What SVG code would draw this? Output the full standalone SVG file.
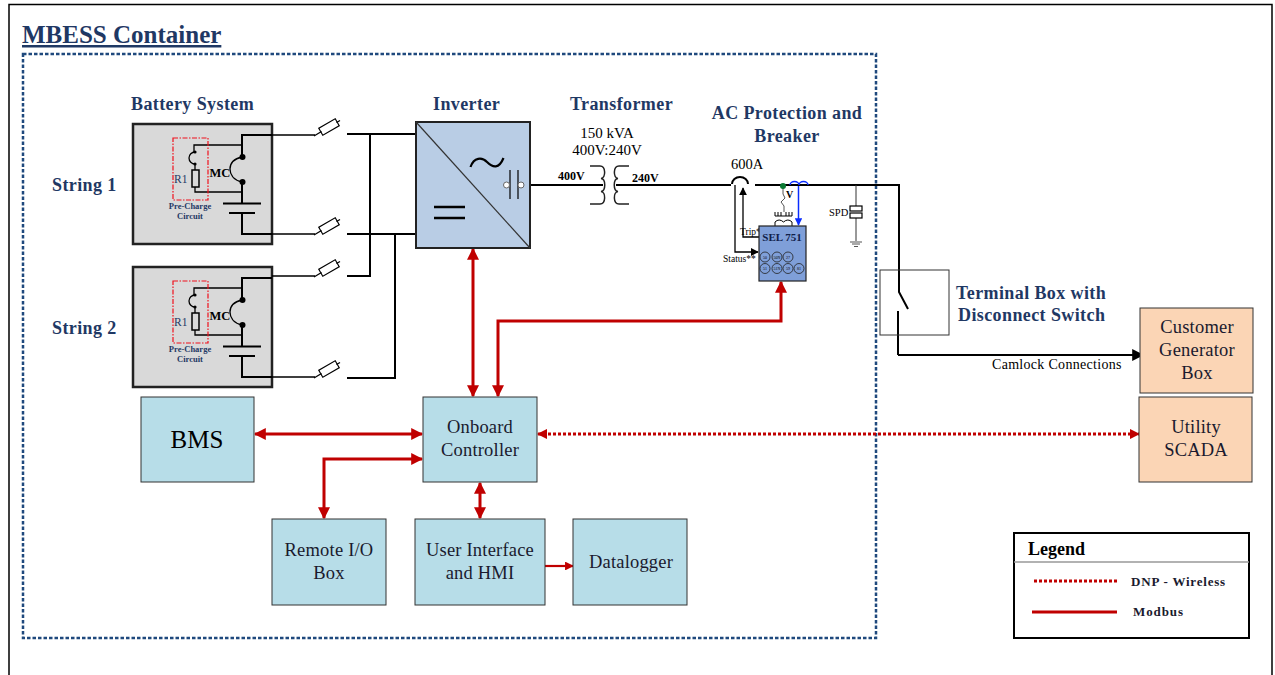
<svg xmlns="http://www.w3.org/2000/svg" width="1275" height="675" viewBox="0 0 1275 675">
<style>
text{font-family:"Liberation Serif","Times New Roman",serif;fill:#000}
.h{font-weight:bold;fill:#1f3864;font-size:18px;letter-spacing:.4px}
.b{font-size:18.500px;letter-spacing:.2px;fill:#1a1a2e}
.m{text-anchor:middle}
.w{fill:none;stroke:#000;stroke-width:2}
.t{fill:none;stroke:#000;stroke-width:1.300}
.sb{fill:#d9d9d9;stroke:#222;stroke-width:2.500}
.blue{fill:#b7dde8;stroke:#333;stroke-width:1}
.or{fill:#fbd5b5;stroke:#333;stroke-width:1}
.red{fill:none;stroke:#c00000;stroke-width:3}
.pc{fill:none;stroke:#f0101c;stroke-width:1.200;stroke-dasharray:5 1.500 1.500 1.500}
.fuse{fill:#fff;stroke:#000;stroke-width:1.200}
</style>
<defs>
<marker id="ar" viewBox="0 0 10 10" refX="9" refY="5" markerWidth="4" markerHeight="4" orient="auto-start-reverse" markerUnits="strokeWidth"><path d="M0 0L10 5L0 10Z" fill="#c00000"/></marker>
<marker id="ad" viewBox="0 0 10 10" refX="9" refY="5" markerWidth="3.500" markerHeight="3.500" orient="auto-start-reverse" markerUnits="strokeWidth"><path d="M0 0L10 5L0 10Z" fill="#c00000"/></marker>
<marker id="ak" viewBox="0 0 10 10" refX="9" refY="5" markerWidth="6" markerHeight="6" orient="auto" markerUnits="strokeWidth"><path d="M0 0L10 5L0 10Z" fill="#000"/></marker>
<marker id="ab" viewBox="0 0 10 10" refX="9" refY="5" markerWidth="5" markerHeight="5" orient="auto" markerUnits="strokeWidth"><path d="M0 0L10 5L0 10Z" fill="#0a2cff"/></marker>
<g id="stringcircuit">
<rect class="sb" x="133" y="124" width="139" height="120"/>
<path class="w" d="M272 135H242V157M242 182V203M242 213V234H272"/>
<path class="t" d="M242 145H194V152M195 164V170M195 187V192H242"/>
<path class="t" d="M195 152A6 6 0 0 0 195 164"/>
<circle cx="195" cy="152" r="1.600"/><circle cx="195" cy="164" r="1.600"/>
<rect x="192" y="170" width="7" height="17" fill="none" stroke="#000" stroke-width="1.500"/>
<path class="t" d="M242 157C233 159 230 164 230 169C230 174 233 180 242 182"/>
<circle cx="242.500" cy="157" r="3"/><circle cx="242.500" cy="182" r="3"/>
<path class="w" d="M223 203.500H261M229 213H255"/>
<rect class="pc" x="173" y="138" width="35" height="62"/>
<text x="174" y="183" font-size="11.500" style="fill:#1f3864">R1</text>
<text x="209.500" y="177" font-size="12.500" font-weight="bold">MC</text>
<text x="190" y="209" font-size="8.500" font-weight="bold" class="m" style="fill:#1f3864">Pre-Charge</text>
<text x="190" y="219" font-size="8.500" font-weight="bold" class="m" style="fill:#1f3864">Circuit</text>
</g>
<g id="fuse"><rect class="fuse" x="-9.500" y="-4" width="19" height="8" transform="rotate(-30)"/><path class="t" d="M-7.500 4.500L-15 9M7.500 -4.500L11 -6.500"/></g>
</defs>
<rect width="1275" height="675" fill="#fff"/>
<path d="M9 675V4.500H1272V675" fill="none" stroke="#000" stroke-width="1.500"/>
<rect x="23" y="54" width="853" height="584" fill="none" stroke="#1f497d" stroke-width="2.500" stroke-dasharray="3.500 2"/>
<text x="22" y="43" font-size="25" font-weight="bold" text-decoration="underline" style="fill:#1f3864">MBESS Container</text>

<g id="battery-system"><text class="h" x="131" y="110">Battery System</text></g>
<g id="string-1"><text class="h" x="52" y="190.500">String 1</text><use href="#stringcircuit"/>
<path class="t" d="M272 135H315M272 234H315"/><use href="#fuse" x="329" y="127"/><use href="#fuse" x="329" y="226"/></g>
<g id="string-2"><text class="h" x="52" y="333.500">String 2</text><use href="#stringcircuit" y="143"/>
<path class="t" d="M272 276H315M272 377H315"/><use href="#fuse" x="329" y="268"/><use href="#fuse" x="329" y="369"/></g>

<g id="connectors">
<path class="w" d="M347 134H416M347 234H416M347 276H370V134M347 378H395V234"/>
<path class="w" d="M530 185H603M616 185H727M755 185H899V292L908 309M898 311V355"/>
<path class="w" d="M898 355H1143" marker-end="url(#ak)"/>
<path class="red" d="M473 249V396" marker-start="url(#ar)" marker-end="url(#ar)"/>
<path class="red" d="M498 396V321H781V282" marker-start="url(#ar)" marker-end="url(#ar)"/>
<path class="red" d="M255 434H422" marker-start="url(#ar)" marker-end="url(#ar)"/>
<path class="red" d="M324 518V459H422" marker-start="url(#ar)" marker-end="url(#ar)"/>
<path class="red" d="M480 483V518" marker-start="url(#ar)" marker-end="url(#ar)"/>
<path class="red" d="M545 566H573" marker-end="url(#ar)" style="stroke-width:2.200"/>
<path class="red" d="M538 434H1139" stroke-dasharray="3 2" marker-start="url(#ad)" marker-end="url(#ad)"/>
</g>

<g id="inverter">
<text class="h" x="433" y="110">Inverter</text>
<rect x="416" y="122" width="114" height="126" fill="#b9cde5" stroke="#222" stroke-width="2"/>
<path d="M416 122L530 248" stroke="#333" stroke-width="1.200"/>
<path d="M470.500 167C474 157 482 157 487 162C493 168 499 169 503.500 158" fill="none" stroke="#000" stroke-width="2.200"/>
<path d="M510 170V199M518 170V199" stroke="#000" stroke-width="1.200"/>
<circle cx="506.500" cy="185" r="3" fill="#fff" stroke="#666"/><circle cx="521" cy="185" r="3" fill="#fff" stroke="#666"/>
<path d="M434 207H465M434 218H465" stroke="#000" stroke-width="2.500"/>
</g>

<g id="transformer">
<text class="h" x="570" y="110">Transformer</text>
<text x="607" y="138" font-size="15" class="m">150 kVA</text>
<text x="607" y="155" font-size="15" class="m">400V:240V</text>
<text x="558" y="180" font-size="12" font-weight="bold">400V</text>
<text x="632" y="182" font-size="12" font-weight="bold">240V</text>
<path d="M590 166H600C606 166 606 178 601 178.500C606 179 606 191 601 191.500C606 192 606 204 600 204H590M629 166H619C613 166 613 178 618 178.500C613 179 613 191 618 191.500C613 192 613 204 619 204H629" fill="none" stroke="#222" stroke-width="1.500"/>
</g>

<g id="ac-protection">
<text class="h m" x="787" y="119">AC Protection and</text>
<text class="h m" x="787" y="142">Breaker</text>
<text x="731" y="169" font-size="14.500">600A</text>
<path d="M725 185H731M732 184A8 7 0 0 1 748 184" fill="none" stroke="#000" stroke-width="2"/>
<path d="M735 185V252H758" class="t" marker-end="url(#ak)"/>
<path d="M759 237H743V188" class="t" marker-end="url(#ak)"/>
<text x="740" y="235" font-size="9.500">Trip*</text>
<text x="723" y="262" font-size="9.500">Status**</text>
<path d="M783 186V194L785 198L781 202L784 206V212" fill="none" stroke="#555" stroke-width="1"/>
<circle cx="783" cy="186" r="3" fill="#0a7a33"/>
<text x="786" y="198" font-size="10" font-weight="bold">V</text>
<path d="M775 212V216H792V212M778 212V216M781 212V216M786 212V216M789 212V216M775 226V222Q779 218 783.500 222Q788 218 792 222V226" fill="none" stroke="#000" stroke-width="1"/>
<path d="M790 185A4.500 3.500 0 0 1 799 185A4.500 3.500 0 0 1 808 185" fill="none" stroke="#0a2cff" stroke-width="1.500"/>
<path d="M798.500 186V225" fill="none" stroke="#0a2cff" stroke-width="1.500" marker-end="url(#ab)"/>
<rect x="759" y="226" width="47" height="55" fill="#7f9fd9" stroke="#222" stroke-width="1.200"/>
<text x="782" y="241" font-size="11" font-weight="bold" class="m" style="fill:#10204a">SEL 751</text>
<g fill="none" stroke="#222" stroke-width=".8">
<circle cx="765" cy="257" r="5"/><circle cx="777" cy="257" r="5"/><circle cx="788" cy="257" r="5"/>
<circle cx="765" cy="268.500" r="5"/><circle cx="777" cy="268.500" r="5"/><circle cx="788" cy="268.500" r="5"/><circle cx="799" cy="268.500" r="5"/>
</g>
<g font-size="4" text-anchor="middle">
<text x="765" y="259">50</text><text x="777" y="259">50N</text><text x="788" y="259">27</text>
<text x="765" y="270">51</text><text x="777" y="270">51N</text><text x="788" y="270">59</text><text x="799" y="270">81</text>
</g>
</g>

<g id="spd">
<text x="829" y="216" font-size="10.500">SPD</text>
<path d="M856 185V206M856 218V241" stroke="#333" stroke-width="1"/>
<rect x="850" y="206" width="12" height="5" fill="#fff" stroke="#000" stroke-width="1.200"/>
<rect x="850" y="213" width="12" height="5" fill="#fff" stroke="#000" stroke-width="1.200"/>
<path d="M850 242H862M852 244H860M854 246.500H858" stroke="#555" stroke-width="1.200"/>
</g>

<g id="terminal-box">
<rect x="880" y="270" width="69" height="65" fill="none" stroke="#333" stroke-width="1"/>
<text class="h" x="956" y="298.500">Terminal Box with</text>
<text class="h" x="958" y="320.500">Disconnect Switch</text>
<text x="992" y="369" font-size="14" letter-spacing=".3">Camlock Connections</text>
</g>

<g id="customer-generator-box"><rect class="or" x="1140" y="308" width="113" height="85"/>
<text class="b m" x="1197" y="333">Customer</text><text class="b m" x="1197" y="356">Generator</text><text class="b m" x="1197" y="379">Box</text></g>
<g id="utility-scada"><rect class="or" x="1139" y="397" width="113" height="85"/>
<text class="b m" x="1196" y="433">Utility</text><text class="b m" x="1196" y="456">SCADA</text></g>
<g id="bms"><rect class="blue" x="141" y="397" width="113" height="85"/><text class="m" x="197" y="448" font-size="25">BMS</text></g>
<g id="onboard-controller"><rect class="blue" x="423" y="397" width="114" height="85"/>
<text class="b m" x="480" y="433">Onboard</text><text class="b m" x="480" y="456">Controller</text></g>
<g id="remote-io"><rect class="blue" x="272" y="519" width="114" height="86"/>
<text class="b m" x="329" y="556">Remote I/O</text><text class="b m" x="329" y="579">Box</text></g>
<g id="user-interface"><rect class="blue" x="415" y="519" width="130" height="86"/>
<text class="b m" x="480" y="556">User Interface</text><text class="b m" x="480" y="579">and HMI</text></g>
<g id="datalogger"><rect class="blue" x="573" y="519" width="114" height="86"/><text class="b m" x="631" y="568">Datalogger</text></g>

<g id="legend">
<rect x="1014" y="533" width="235" height="105" fill="#fff" stroke="#000" stroke-width="2"/>
<path d="M1014 562H1249" stroke="#999" stroke-width="1.500"/>
<text x="1028" y="555" font-size="18" font-weight="bold">Legend</text>
<path d="M1034 581H1117" stroke="#c00000" stroke-width="3" stroke-dasharray="3 2"/>
<path d="M1032 612H1117" stroke="#c00000" stroke-width="3"/>
<text x="1131" y="586" font-size="13" font-weight="bold" letter-spacing=".8" style="fill:#1a1a2e">DNP - Wireless</text>
<text x="1133" y="616" font-size="13" font-weight="bold" letter-spacing=".9" style="fill:#1a1a2e">Modbus</text>
</g>
</svg>
